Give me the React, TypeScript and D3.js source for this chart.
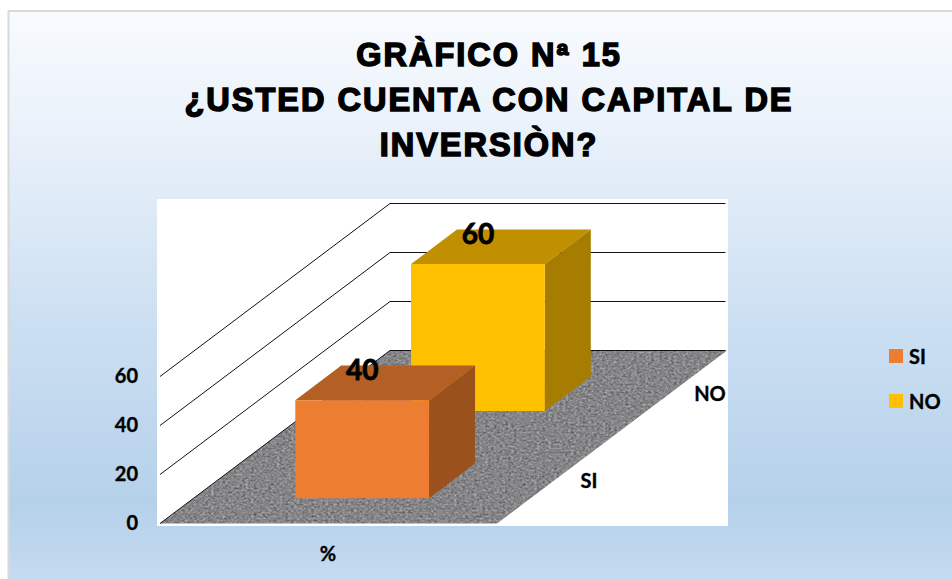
import React from "react";
import * as d3 from "d3";

const titleLines = ["GRÀFICO Nª 15", "¿USTED CUENTA CON CAPITAL DE", "INVERSIÒN?"];
const categories = ["SI", "NO"];
const seriesValues = [40, 60];
const seriesColors = ["#ED7D31", "#FFC000"];
const seriesTop = ["#B45F23", "#C09000"];
const seriesSide = ["#9A511C", "#A67D00"];
const yTicks = [0, 20, 40, 60];
const axisLabel = "%";

const W = 952;
const H = 579;
// oblique floor: x/y axes on the front edge, depth running to the back-right
const x0 = 160, y0 = 523.5;
const floorW = 337;
const depthDX = 230, depthDY = -173;
const y = d3.scaleLinear().domain([0, 60]).range([0, 147]);
const u = d3.scaleLinear().domain([0, 1]).range([0, floorW]);
const depth = d3.scaleBand<string>().domain(categories).range([0, 0.996]).paddingInner(0.603).paddingOuter(0.291);

const pt = (ux: number, t: number, v: number): [number, number] => [
  x0 + u(ux) + depthDX * t,
  y0 + depthDY * t - y(v),
];
const poly = (pts: [number, number][]) => (d3.line()(pts) || "") + "Z";

const FONT = "Lato, Carlito, sans-serif";
const TITLE = "'Liberation Sans', Arial, sans-serif";

export default function App() {
  const barU0 = 0.3015, barU1 = 0.6985;
  const labelProps = {
    fontFamily: FONT,
    fontWeight: "bold",
    fill: "#000",
    stroke: "#000",
    strokeWidth: 0.35,
  };
  return (
    <svg width={W} height={H} style={{ position: "absolute", left: 0, top: 0, background: "#fff" }}>
      <defs>
        <linearGradient id="bg" x1="0" y1="0" x2="0" y2="1">
          <stop offset="0" stopColor="#F8FBFE" />
          <stop offset="0.17" stopColor="#EDF3FB" />
          <stop offset="0.5" stopColor="#CFE1F3" />
          <stop offset="0.85" stopColor="#B5D1EA" />
          <stop offset="1" stopColor="#C7DCF1" />
        </linearGradient>
        <filter id="granite" x="0" y="0" width="100%" height="100%" colorInterpolationFilters="sRGB">
          <feTurbulence type="fractalNoise" baseFrequency="0.35 0.5" numOctaves={3} seed={7} />
          <feColorMatrix type="matrix" values="0.32 0.32 0 0 0.2  0.32 0.32 0 0 0.2  0.32 0.32 0 0 0.21  0 0 0 0 1" />
        </filter>
        <clipPath id="floorClip">
          <path d={poly([pt(0, 0, 0), pt(1, 0, 0), pt(1, 1, 0), pt(0, 1, 0)])} />
        </clipPath>
      </defs>

      <rect x={8.5} y={11} width={W} height={H} fill="url(#bg)" stroke="#D9D9D9" strokeWidth={2} />

      {titleLines.map((t, i) => (
        <text
          key={i}
          x={489}
          y={66 + i * 45}
          textAnchor="middle"
          fontFamily={TITLE}
          fontWeight="bold"
          fontSize={32.5}
          letterSpacing={2}
          fill="#000"
          stroke="#000"
          strokeWidth={1.5}
        >
          {t}
        </text>
      ))}

      <rect x={157} y={199} width={571} height={327} fill="#fff" />

      {/* floor */}
      <g clipPath="url(#floorClip)">
        <rect x={150} y={340} width={590} height={190} filter="url(#granite)" />
      </g>

      {/* walls: gridlines */}
      {yTicks.map((v) => (
        <path
          key={v}
          d={d3.line()([pt(0, 0, v), pt(0, 1, v), [725.5, pt(0, 1, v)[1]]]) || ""}
          fill="none"
          stroke="#111"
          strokeWidth={1}
        />
      ))}

      {/* bars, back to front */}
      {[1, 0].map((i) => {
        const c = categories[i];
        const v = seriesValues[i];
        const t0 = depth(c)!;
        const t1 = t0 + depth.bandwidth();
        return (
          <g key={c}>
            <path d={poly([pt(barU0, t0, v), pt(barU1, t0, v), pt(barU1, t1, v), pt(barU0, t1, v)])} fill={seriesTop[i]} />
            <path d={poly([pt(barU1, t0, 0), pt(barU1, t1, 0), pt(barU1, t1, v), pt(barU1, t0, v)])} fill={seriesSide[i]} />
            <path d={poly([pt(barU0, t0, 0), pt(barU1, t0, 0), pt(barU1, t0, v), pt(barU0, t0, v)])} fill={seriesColors[i]} />
            <text
              x={pt(barU0, t1, v)[0] + 21}
              y={pt(barU0, t1, v)[1] + 14}
              textAnchor="middle"
              {...labelProps}
              strokeWidth={0.8}
              fontSize={28}
            >
              {v}
            </text>
          </g>
        );
      })}

      {/* y axis */}
      {yTicks.map((v) => (
        <text key={v} x={138} y={pt(0, 0, v)[1] + 6.5} textAnchor="end" {...labelProps} fontSize={20}>
          {v}
        </text>
      ))}

      <text x={328} y={561} textAnchor="middle" {...labelProps} fontSize={20}>
        {axisLabel}
      </text>

      {/* depth axis labels */}
      {categories.map((c, i) => (
        <text key={c} x={i === 0 ? 589 : 710} y={i === 0 ? 488 : 401} textAnchor="middle" {...labelProps} fontSize={20}>
          {c}
        </text>
      ))}

      {/* legend */}
      {categories.map((c, i) => (
        <g key={c} transform={`translate(889,${349 + i * 45})`}>
          <rect width={14} height={14} fill={seriesColors[i]} />
          <text x={20} y={15} {...labelProps} fontSize={20}>
            {c}
          </text>
        </g>
      ))}
    </svg>
  );
}
